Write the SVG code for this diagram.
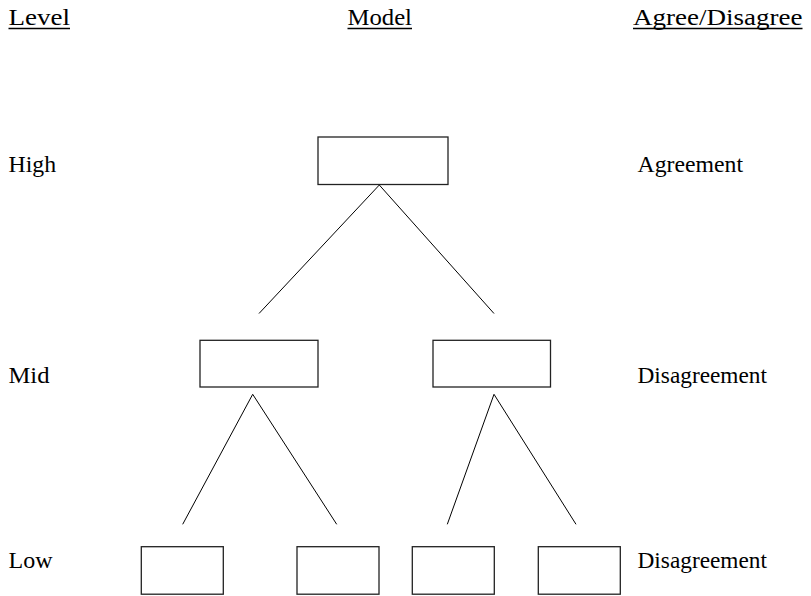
<svg xmlns="http://www.w3.org/2000/svg" width="811" height="596" viewBox="0 0 811 596">
<style>
text{font-family:'Liberation Serif','Times New Roman',serif;font-size:23px;fill:#000}
.box{fill:#fff;stroke:#222;stroke-width:1.3}
.ul{stroke:#000;stroke-width:1.3}
.conn line{stroke:#000;stroke-width:1}
</style>
<rect width="811" height="596" fill="#fff"/>
<g id="headers">
<text x="8.5" y="25" textLength="61.5" lengthAdjust="spacingAndGlyphs">Level</text>
<line class="ul" x1="8.5" y1="28.5" x2="70" y2="28.5"/>
<text x="347.5" y="25" textLength="64.5" lengthAdjust="spacingAndGlyphs">Model</text>
<line class="ul" x1="347.5" y1="28.5" x2="412" y2="28.5"/>
<text x="633" y="25" textLength="169.5" lengthAdjust="spacingAndGlyphs">Agree/Disagree</text>
<line class="ul" x1="633" y1="28.5" x2="802.5" y2="28.5"/>
</g>
<g id="levels">
<text x="8.5" y="171.5" textLength="47.5" lengthAdjust="spacingAndGlyphs">High</text>
<text x="8.5" y="383" textLength="41" lengthAdjust="spacingAndGlyphs">Mid</text>
<text x="8.5" y="568" textLength="44" lengthAdjust="spacingAndGlyphs">Low</text>
</g>
<g id="agreement">
<text x="637.5" y="171.5" textLength="105.5" lengthAdjust="spacingAndGlyphs">Agreement</text>
<text x="637.5" y="383" textLength="129.5" lengthAdjust="spacingAndGlyphs">Disagreement</text>
<text x="637.5" y="568" textLength="129.5" lengthAdjust="spacingAndGlyphs">Disagreement</text>
</g>
<g class="conn" id="connectors">
<line x1="379.3" y1="185" x2="259" y2="313.5"/>
<line x1="379.3" y1="185" x2="494" y2="313.5"/>
<line x1="252.7" y1="394.3" x2="182.7" y2="524.3"/>
<line x1="252.7" y1="394.3" x2="336.7" y2="524.3"/>
<line x1="494" y1="394.3" x2="447.3" y2="524.3"/>
<line x1="494" y1="394.3" x2="576" y2="524.3"/>
</g>
<g id="n-high"><rect class="box" x="318" y="137" width="130" height="47.5"/></g>
<g id="n-mid-left"><rect class="box" x="200" y="340.3" width="118" height="46.7"/></g>
<g id="n-mid-right"><rect class="box" x="433" y="340.3" width="117.5" height="46.7"/></g>
<g id="n-low-1"><rect class="box" x="141.3" y="546.7" width="82" height="47.5"/></g>
<g id="n-low-2"><rect class="box" x="297" y="546.7" width="82" height="47.5"/></g>
<g id="n-low-3"><rect class="box" x="412.3" y="546.7" width="82" height="47.5"/></g>
<g id="n-low-4"><rect class="box" x="538.3" y="546.7" width="82" height="47.5"/></g>
</svg>
